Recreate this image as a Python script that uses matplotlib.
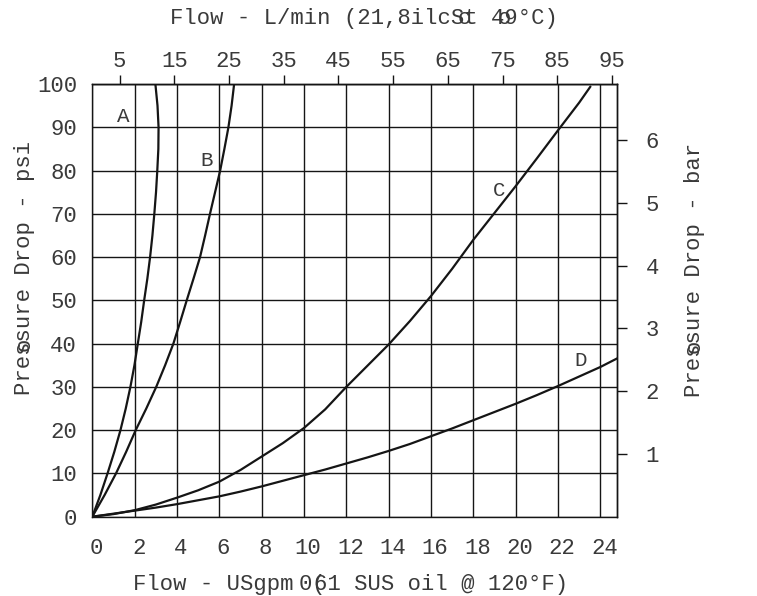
import matplotlib
matplotlib.use('Agg')
import matplotlib.pyplot as plt
import matplotlib.transforms as mtrans

plt.rcParams['font.family'] = ['Liberation Mono', 'DejaVu Sans Mono']

# curve data: flow in USgpm, pressure drop in psi
a_psi = [0, 5, 10, 15, 20, 25, 30, 35, 40, 45, 50, 55, 60, 65, 70, 75, 80, 85, 90, 95, 100]
a_gpm = [0, 0.38, 0.72, 1.04, 1.33, 1.58, 1.8, 1.99, 2.15, 2.31, 2.45, 2.6, 2.73, 2.84,
         2.93, 3.01, 3.07, 3.12, 3.13, 3.08, 2.98]

b_psi = [0, 5, 10, 15, 20, 25, 30, 35, 40, 45, 50, 55, 60, 65, 70, 75, 80, 85, 90, 95, 100]
b_gpm = [0, 0.58, 1.12, 1.6, 2.05, 2.55, 3.02, 3.44, 3.83, 4.15, 4.46, 4.78, 5.09, 5.33,
         5.56, 5.8, 6.04, 6.24, 6.43, 6.58, 6.7]

c_gpm = [0, 1, 2, 3, 4, 5, 6, 7, 8, 9, 10, 11, 12, 13, 14, 15, 16, 17, 18, 19, 20, 21, 22, 23, 23.53]
c_psi = [0, 0.6, 1.5, 2.8, 4.4, 6.1, 8.1, 10.8, 13.9, 17.0, 20.5, 24.8, 30, 34.9, 39.8, 45.2,
         51, 57.3, 64, 70.2, 76.4, 82.8, 89.3, 95.7, 99.4]

d_gpm = [0, 1, 2, 3, 4, 5, 6, 7, 8, 9, 10, 11, 12, 13, 14, 15, 16, 17, 18, 19, 20, 21, 22, 23, 24, 24.8]
d_psi = [0, 0.7, 1.4, 2.1, 2.9, 3.8, 4.7, 5.8, 7.0, 8.3, 9.6, 10.9, 12.3, 13.7, 15.2, 16.8,
         18.6, 20.4, 22.3, 24.2, 26.1, 28.1, 30.2, 32.4, 34.6, 36.6]

labels = ['A', 'B', 'C', 'D']
label_gpm = [1.47, 5.41, 19.2, 23.06]
label_psi = [92.4, 82.3, 75.3, 36.2]

gpm_ticks = list(range(0, 25, 2))
psi_ticks = list(range(0, 101, 10))
lpm_ticks = list(range(5, 96, 10))
bar_ticks = [1, 2, 3, 4, 5, 6]

LPM_PER_GPM = 3.87
PSI_PER_BAR = 14.5

W, H = 757, 596
FS = 16
PITCH = 0.6 * FS * 100 / 72  # px per character, monospace
TXT = '#3a3a3a'
INK = '#151515'

fig = plt.figure(figsize=(W / 100, H / 100), dpi=100)
ax = fig.add_axes([92.3 / W, 1 - 516.7 / H, 525 / W, 432.7 / H])

for x, y in [(a_gpm, a_psi), (b_gpm, b_psi), (c_gpm, c_psi), (d_gpm, d_psi)]:
    ax.plot(x, y, color=INK, lw=1.6, solid_capstyle='round', solid_joinstyle='round')

for s, x, y in zip(labels, label_gpm, label_psi):
    ax.text(x, y, s, fontsize=FS - 1, color=TXT, ha='center', va='center')

ax.set_xlim(0, 24.8)
ax.set_ylim(0, 100)
ax.set_xticks(gpm_ticks)
ax.set_yticks(psi_ticks)
ax.grid(True, color=INK, lw=1.0)
ax.tick_params(axis='both', length=0, labelsize=FS, labelcolor=TXT)
ax.tick_params(axis='x', pad=15)
ax.tick_params(axis='y', pad=11)
for sp in ax.spines.values():
    sp.set_linewidth(1.0)
    sp.set_color(INK)

shift = mtrans.ScaledTranslation(4 / 100, 0, fig.dpi_scale_trans)
for lbl in ax.get_xticklabels():
    lbl.set_transform(lbl.get_transform() + shift)

top = ax.secondary_xaxis('top', functions=(lambda g: g * LPM_PER_GPM, lambda l: l / LPM_PER_GPM))
top.set_xticks(lpm_ticks)
top.tick_params(direction='out', length=6.5, width=1.0, color=INK, pad=2, labelsize=FS, labelcolor=TXT)
top.spines['top'].set_linewidth(1.0)

right = ax.secondary_yaxis('right', functions=(lambda p: p / PSI_PER_BAR, lambda b: b * PSI_PER_BAR))
right.set_yticks(bar_ticks)
right.tick_params(direction='out', length=7.5, width=1.0, color=INK, pad=13, labelsize=FS, labelcolor=TXT)
right.spines['right'].set_linewidth(1.0)


def put(s, x_px, y_px, rot=0):
    fig.text(x_px / W, 1 - y_px / H, s, fontsize=FS, color=TXT, rotation=rot,
             rotation_mode='anchor', ha='left', va='baseline')


# axis titles (the overlapping glyphs are in the original artwork)
put('Flow - L/min (21,8ilcSt 49°C)', 170, 24)
put('c', 170 + 21.6 * PITCH, 24)
put('o', 170 + 24.6 * PITCH, 24)

put('Flow - USgpm', 133, 590)
put('0', 133 + 12.4 * PITCH, 590)
put('(', 133 + 13.4 * PITCH, 590)
put('61 SUS oil @ 120°F)', 133 + 13.6 * PITCH, 590)

put('Pressure Drop - psi', 30, 395, rot=90)
put('o', 30, 395 - 3.3 * PITCH, rot=90)

put('Pressure Drop - bar', 700, 397, rot=90)
put('o', 700, 397 - 3.3 * PITCH, rot=90)

fig.savefig('out.png', dpi=100, facecolor='white')
